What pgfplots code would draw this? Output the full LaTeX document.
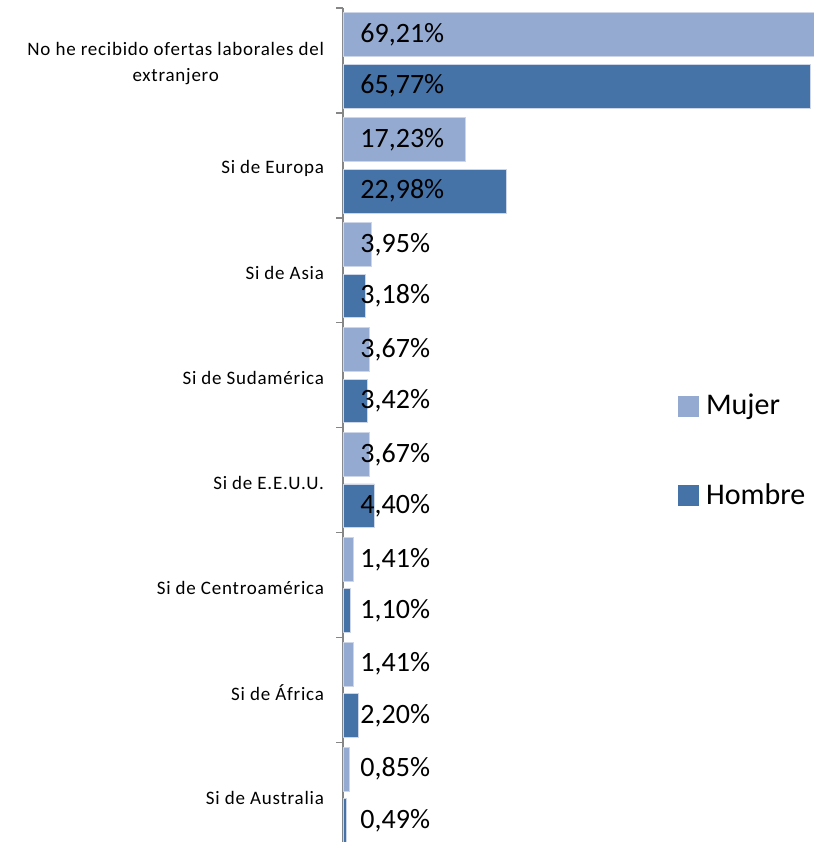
\documentclass[border=0pt]{standalone}
\usepackage{pgfplots}
\usepackage{pgfplotstable}
\pgfplotsset{compat=1.18}
\usepackage{fontspec}
\setmainfont{Carlito}
\newfontfamily\catfont[LetterSpace=4]{Carlito}
\definecolor{mujer}{RGB}{149,170,209}
\definecolor{hombre}{RGB}{69,114,167}
\definecolor{axgray}{RGB}{134,134,134}
\definecolor{barline}{RGB}{205,214,232}

\pgfplotstableread{
y mujer hombre lx lm lh
0 69.21 65.77 2.4 {69,21\%} {65,77\%}
1 17.23 22.98 2.4 {17,23\%} {22,98\%}
2 3.95 3.18 2.4 {3,95\%} {3,18\%}
3 3.67 3.42 2.4 {3,67\%} {3,42\%}
4 3.67 4.40 2.4 {3,67\%} {4,40\%}
5 1.41 1.10 2.4 {1,41\%} {1,10\%}
6 1.41 2.20 2.4 {1,41\%} {2,20\%}
7 0.85 0.49 2.4 {0,85\%} {0,49\%}
}\data

\begin{document}
\begin{tikzpicture}
\begin{axis}[
  at={(0,0)}, anchor=south west,
  scale only axis, width=235.5pt, height=417pt,
  xmin=0, xmax=66.25, ymin=-0.5, ymax=7.45, y dir=reverse,
  hide x axis,
  axis y line*=left,
  axis line style={axgray, line width=0.75pt},
  ytick={0,...,7},
  yticklabels={{No he recibido ofertas laborales del\\extranjero}, Si de Europa, Si de Asia, Si de Sudamérica, Si de E.E.U.U., Si de Centroamérica, Si de África, Si de Australia},
  yticklabel style={font=\catfont\fontsize{9.5}{13}\selectfont, align=center, xshift=-6pt, yshift=-1.5pt},
  major tick length=0pt,
  extra y ticks={-0.5,0.5,1.5,2.5,3.5,4.5,5.5,6.5},
  extra y tick labels={},
  extra y tick style={major tick length=3.5pt, tick align=outside, tick style={axgray, line width=0.75pt}},
  xbar, bar width=0.417,
  legend style={at={(0.711,0.469)}, anchor=west, draw=none, fill=none, inner sep=0pt,
    font=\fontsize{15}{17}\selectfont, row sep=26pt, legend cell align=left,
    nodes={inner sep=3.5pt}},
]
\addplot[fill=mujer, draw=barline, line width=0.4pt, bar shift=-0.245,
  legend image code/.code={\fill[mujer] (0pt,-5pt) rectangle (10pt,5pt);}]
  table[x=mujer, y=y] {\data};
\addlegendentry{Mujer}
\addplot[fill=hombre, draw=barline, line width=0.4pt, bar shift=0.245,
  legend image code/.code={\fill[hombre] (0pt,-5pt) rectangle (10pt,5pt);}]
  table[x=hombre, y=y] {\data};
\addlegendentry{Hombre}
\addplot[draw=none, fill=none, bar shift=-0.245, forget plot,
  nodes near coords, point meta=explicit symbolic,
  every node near coord/.append style={anchor=west, inner sep=0pt, font=\fontsize{14}{16}\selectfont}]
  table[x=lx, y=y, meta=lm] {\data};
\addplot[draw=none, fill=none, bar shift=0.245, forget plot,
  nodes near coords, point meta=explicit symbolic,
  every node near coord/.append style={anchor=west, inner sep=0pt, font=\fontsize{14}{16}\selectfont}]
  table[x=lx, y=y, meta=lh] {\data};
\end{axis}
\pgfresetboundingbox
\path[use as bounding box] (-171.5pt,0) rectangle (235.5pt,421pt);
\end{tikzpicture}
\end{document}
